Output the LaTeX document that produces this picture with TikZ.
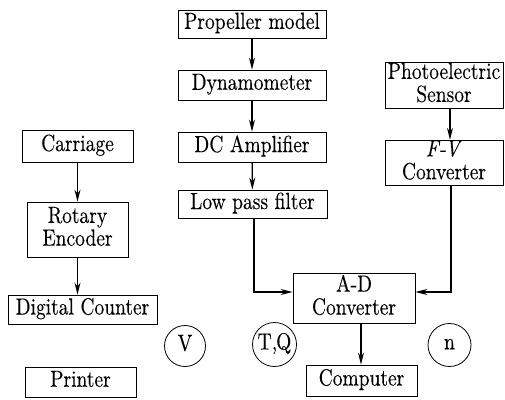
\documentclass[tikz,border=0pt]{standalone}
\usepackage{graphicx}
\usepackage{fontspec}
\setmainfont{lmroman10-regular}[Extension=.otf, ItalicFont=lmroman10-italic, FakeBold=0.2]
\usetikzlibrary{arrows.meta}
\newcommand\vs[1]{\scalebox{1}[1.2]{\begin{tabular}{@{}c@{}}#1\end{tabular}}}
\begin{document}
\begin{tikzpicture}[x=1pt,y=-1pt,
  box/.style={draw, line width=0.8pt, inner sep=0pt, font=\fontsize{19.5}{18}\selectfont},
  arr/.style={line width=1.3pt, -{Stealth[length=12pt,width=6pt]}},
  circ/.style={draw, circle, line width=0.8pt, minimum size=44pt, inner sep=0pt, font=\fontsize{19.5}{18}\selectfont}]
\useasboundingbox (0,0) rectangle (505,399);
% middle column
\node[box, minimum width=148pt, minimum height=28pt] (prop) at (252,24) {\vs{Propeller model}};
\node[box, minimum width=148pt, minimum height=30pt] (dyn) at (252,85) {\vs{Dynamometer}};
\node[box, minimum width=148pt, minimum height=30pt] (dc) at (252,147) {\vs{DC Amplifier}};
\node[box, minimum width=149pt, minimum height=28pt] (lpf) at (252.5,204) {\vs{Low pass filter}};
% left column
\node[box, minimum width=111pt, minimum height=32pt] (car) at (77.5,146) {\vs{Carriage}};
\node[box, minimum width=101pt, minimum height=55pt] (rot) at (77.5,229.5) {\vs{Rotary\\Encoder}};
\node[box, minimum width=149pt, minimum height=29pt] (dig) at (82.5,309.5) {\vs{Digital Counter}};
\node[box, minimum width=111pt, minimum height=30pt] (prn) at (80.5,382) {\vs{Printer}};
% right column
\node[box, minimum width=118pt, minimum height=45pt] (pho) at (444,85.5) {\vs{Photoelectric\\Sensor}};
\node[box, minimum width=118pt, minimum height=40pt] (fv) at (444,163) {\vs{\textit{F}-\kern-1.5pt\textit{V}\\Converter}};
\node[box, minimum width=122pt, minimum height=50pt] (ad) at (354,298) {\vs{A-D\\Converter}};
\node[box, minimum width=111pt, minimum height=31pt] (com) at (361.5,380.5) {\vs{Computer}};
% circles
\node[circ, minimum size=41pt] (v) at (185,346) {\vs{V}};
\node[circ] (tq) at (274.5,344.5) {\vs{T,\kern-1pt Q}};
\node[circ, minimum size=43pt] (n) at (449.5,345) {\vs{n}};
% connectors
\draw[arr] (prop) -- (dyn);
\draw[arr] (dyn) -- (dc);
\draw[arr] (dc) -- (lpf);
\draw[arr] (car) -- (rot);
\draw[arr] (rot.south) -- (rot.south |- dig.north);
\draw[arr] ([xshift=6pt]pho.south) -- ([xshift=6pt]fv.north);
\draw[arr] ([xshift=1.5pt]lpf.south) |- ([yshift=6pt]ad.west);
\draw[arr] ([xshift=7pt]fv.south) |- ([yshift=6pt]ad.east);
\draw[arr] ([xshift=7pt]ad.south) -- ([xshift=7pt]ad.south |- com.north);
\end{tikzpicture}
\end{document}
